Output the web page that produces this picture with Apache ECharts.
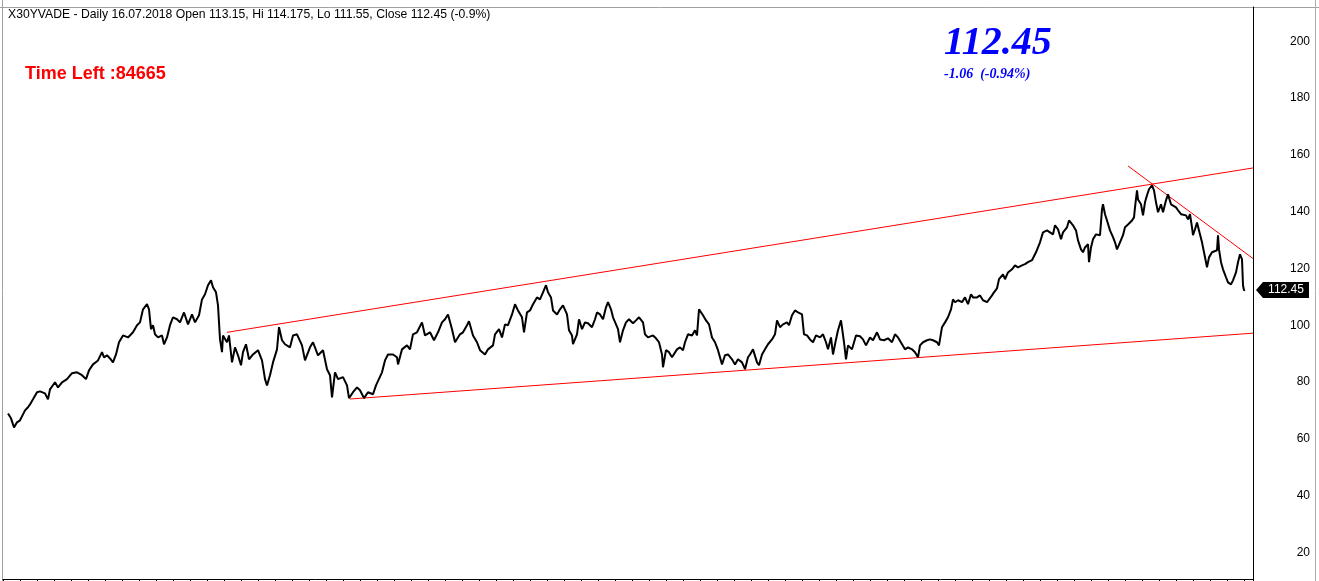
<!DOCTYPE html>
<html>
<head>
<meta charset="utf-8">
<script src="https://cdn.jsdelivr.net/npm/echarts@6/dist/echarts.min.js"></script>
<style>
html,body{margin:0;padding:0;background:#fff;}
#c{width:1319px;height:581px;}
</style>
</head>
<body>
<div id="c"></div>
<script>
// ---- data (bar index along the time axis, close value) ----
const bars = [8,11,14,17,20,23,25,28,30,33,37,40,45,48,50,55,58,62,67,72,77,82,86,89,93,98,102,104,107,110,113,116,119,123,128,133,137,140,143,147,149,151,153,155,158,162,164,167,170,173,177,180,184,188,192,195,199,202,205,208,211,213,216,218,220,222,223,227,229,232,235,238,241,243,246,249,
253,258,262,265,267,270,273,277,279,282,285,290,293,297,302,305,310,313,318,323,327,330,332,335,338,343,347,349,353,357,360,364,368,373,376,378,382,385,388,393,397,398,402,407,410,413,417,422,425,430,434,438,442,445,448,452,455,460,463,467,469,473,477,480,485,488,490,493,495,499,
502,505,508,512,515,518,522,524,527,530,533,537,540,543,546,548,551,553,557,560,563,567,569,572,573,577,579,582,585,588,592,595,597,600,603,606,608,611,613,616,618,620,623,626,629,633,636,639,643,645,648,653,656,659,662,663,666,669,672,674,677,680,683,685,688,692,695,697,699,703,706,709,712,715,718,722,725,728,732,735,738,742,745,748,
750,753,757,759,762,765,768,772,775,777,780,783,787,789,792,795,798,802,804,807,810,813,816,820,823,826,828,831,833,836,838,841,843,844,846,848,852,856,860,863,866,870,873,877,880,884,888,892,895,898,902,905,908,912,915,918,920,923,927,930,933,937,939,942,945,948,951,953,955,958,962,965,968,971,973,977,980,983,987,989,992,994,997,999,
1003,1005,1008,1012,1015,1018,1022,1025,1028,1032,1034,1036,1038,1040,1043,1047,1050,1053,1055,1058,1061,1063,1067,1069,1073,1076,1078,1081,1083,1085,1088,1089,1091,1093,1096,1098,1100,1102,1103,1105,1107,1110,1113,1115,1117,1120,1123,1125,1128,1132,1134,1135,1137,1138,1141,1143,1145,1147,1149,1152,1154,1156,1158,1161,1163,1166,1168,1171,1173,1176,1178,1181,1183,1186,1188,1190,1192,1193,1195,1197,1199,1202,1204,1206,1207,1209,1212,1214,1217,1218,1219,1221,1223,1226,1228,1231,1233,1236,1238,1240,1242,1243,1244,1245];
const closes = [68.9,67.2,64.0,65.8,66.5,68.6,70.0,71.1,72.1,73.9,76.4,76.7,76.0,73.9,77.4,79.9,78.1,79.9,81.0,83.1,83.4,82.4,81.0,84.1,86.2,87.6,90.5,88.7,89.4,88.3,86.9,89.7,94.0,96.4,95.7,97.5,100.0,101.0,105.6,107.4,105.6,98.6,100.0,96.8,95.7,96.4,93.3,95.7,100.0,102.8,102.1,101.0,104.5,100.3,103.8,101.0,103.5,109.1,110.9,114.1,115.8,113.4,111.6,107.0,95.0,90.5,96.4,94.0,96.4,86.9,92.2,89.4,85.9,90.5,93.3,88.0,
89.7,91.2,87.6,81.0,78.8,82.4,86.9,91.5,99.3,94.7,93.3,92.2,96.4,96.8,92.9,87.6,92.2,94.0,89.4,91.2,84.5,82.4,74.6,83.4,81.0,81.7,78.8,74.3,76.4,78.1,77.1,74.3,76.4,75.7,78.8,78.1,83.4,87.6,89.7,89.7,88.7,86.2,91.5,92.9,91.5,96.8,97.5,101.0,96.4,97.5,94.7,97.5,101.0,102.1,103.8,98.6,94.0,96.8,97.5,100.0,101.4,96.4,94.0,91.2,89.7,91.5,91.2,92.9,96.8,98.6,
95.7,100.3,100.0,103.8,107.4,105.2,102.8,97.5,104.5,105.2,107.4,109.8,109.1,111.6,114.1,111.6,109.8,105.2,103.8,105.6,107.0,103.8,98.2,96.4,93.3,96.8,102.1,98.6,101.0,100.7,99.3,102.1,104.5,103.8,102.1,106.3,108.1,105.6,102.8,100.3,98.6,94.0,98.2,101.0,102.1,100.7,101.7,102.8,101.0,96.8,95.7,96.4,95.4,94.0,89.7,85.2,91.2,90.5,88.7,88.0,91.5,92.2,91.2,94.0,96.8,96.4,98.2,96.4,105.6,103.5,101.7,100.3,95.7,94.0,91.2,86.2,89.4,89.7,88.0,86.2,88.0,86.9,84.5,88.7,
89.7,91.5,86.9,85.9,89.7,91.5,93.3,95.0,96.8,101.7,99.3,100.3,101.0,100.0,103.5,105.2,104.5,103.8,96.8,96.4,95.0,94.0,96.4,95.7,96.8,94.0,91.5,95.7,89.7,95.0,98.2,101.7,102.1,94.0,88.0,92.9,91.5,96.4,96.1,95.0,92.9,95.7,94.7,97.5,95.0,94.7,95.4,94.0,96.8,95.7,93.3,91.5,92.2,91.5,90.5,88.7,92.9,94.0,94.7,95.0,94.7,94.0,92.9,99.3,101.0,102.8,105.6,109.1,108.1,108.8,108.1,109.8,107.4,110.9,109.8,109.8,110.5,108.8,108.1,108.8,110.5,111.6,113.0,116.2,
117.9,116.2,118.6,119.7,121.1,120.4,121.1,121.5,122.2,122.9,123.2,125.7,125.7,129.2,132.7,133.4,132.7,132.0,135.2,133.8,130.3,132.7,134.5,136.9,135.2,133.4,129.9,126.7,125.7,127.4,128.5,122.2,127.4,130.3,132.0,132.7,131.7,140.8,142.6,139.1,136.9,133.4,131.0,129.2,126.7,129.2,131.7,134.5,135.5,136.9,138.0,141.5,147.5,144.3,142.6,138.7,143.3,145.8,147.9,149.3,147.5,143.3,139.8,142.6,139.8,144.0,146.1,142.6,142.2,141.5,140.5,139.1,139.8,138.7,137.3,139.1,134.5,131.7,133.8,136.2,133.4,129.2,125.7,122.2,120.4,123.9,125.7,125.3,126.4,131.7,126.7,122.2,119.7,116.9,115.1,114.4,115.8,118.6,122.2,125.0,123.2,114.1,112.3,112.45];

// trend lines: [start, end] along the time axis and their values
const upperX = [227, 1253], upperY = [97.5, 155.4];
const lowerX = [350, 1253], lowerY = [74.0, 97.2];
const downX  = [1128, 1253], downY  = [156.1, 123.5];

const yTicks = [20, 40, 60, 80, 100, 120, 140, 160, 180, 200];
const titleText = 'X30YVADE - Daily 16.07.2018 Open 113.15, Hi 114.175, Lo 111.55, Close 112.45 (-0.9%)';
const timeLeft = 'Time Left :84665';
const lastPrice = 112.45;
const changeText = '-1.06  (-0.94%)';

const zip = (xs, ys) => xs.map((x, i) => [x, ys[i]]);

const chart = echarts.init(document.getElementById('c'), null, {renderer: 'canvas'});
const option = {
  animation: false,
  backgroundColor: '#ffffff',
  grid: {left: 3, right: 66, top: 7, bottom: 2, containLabel: false},
  xAxis: {
    type: 'value', min: 3, max: 1253, interval: 17,
    axisLine: {show: true, lineStyle: {color: '#000', width: 1}},
    axisTick: {show: true, length: 3, lineStyle: {color: '#000'}},
    axisLabel: {show: false},
    splitLine: {show: false}
  },
  yAxis: {
    type: 'value', position: 'right', min: 10.6, max: 212.1,
    axisLine: {show: true, lineStyle: {color: '#000', width: 1}},
    axisTick: {show: false},
    splitLine: {show: false},
    axisLabel: {
      customValues: yTicks, color: '#000', fontFamily: 'Liberation Sans, Arial', fontSize: 12,
      align: 'right', margin: 57
    }
  },
  series: [
    {type: 'line', data: zip(bars, closes), symbol: 'none', lineStyle: {color: '#000', width: 2}, z: 3},
    {type: 'line', data: zip(upperX, upperY), symbol: 'none', lineStyle: {color: '#ff0000', width: 1}, z: 2},
    {type: 'line', data: zip(lowerX, lowerY), symbol: 'none', lineStyle: {color: '#ff0000', width: 1}, z: 2},
    {type: 'line', data: zip(downX, downY), symbol: 'none', lineStyle: {color: '#ff0000', width: 1}, z: 2}
  ]
};
chart.setOption(option);

const py = chart.convertToPixel({yAxisIndex: 0}, lastPrice);
const ax = chart.convertToPixel({xAxisIndex: 0}, 1253);
chart.setOption({
  graphic: [
    {type: 'line', shape: {x1: 0, y1: 7.5, x2: 1319, y2: 7.5}, style: {stroke: '#a0a0a0', lineWidth: 1}},
    {type: 'line', shape: {x1: 2.5, y1: 0, x2: 2.5, y2: 581}, style: {stroke: '#a0a0a0', lineWidth: 1}},
    {type: 'line', shape: {x1: 1315.5, y1: 0, x2: 1315.5, y2: 581}, style: {stroke: '#b0b0b0', lineWidth: 1}},
    {type: 'text', left: 8, top: 9, style: {text: titleText, fill: '#000', font: '12.2px "Liberation Sans", Arial'}},
    {type: 'text', left: 25, top: 65, style: {text: timeLeft, fill: '#ff0000', font: 'bold 18px "Liberation Sans", Arial'}},
    {type: 'text', left: 944, top: 24, style: {text: String(lastPrice), fill: '#0000ff', font: 'italic bold 40px "Liberation Serif", "Times New Roman"'}},
    {type: 'text', left: 944, top: 67, style: {text: changeText, fill: '#0000ff', font: 'italic bold 14px "Liberation Serif", "Times New Roman"'}},
    {type: 'polygon', shape: {points: [[ax + 3, py], [ax + 10, py - 8], [ax + 56, py - 8], [ax + 56, py + 8], [ax + 10, py + 8]]}, style: {fill: '#000'}},
    {type: 'text', x: ax + 33, y: py, style: {text: lastPrice.toFixed(2), fill: '#fff', font: '12px "Liberation Sans", Arial', align: 'center', verticalAlign: 'middle'}}
  ]
});
</script>
</body>
</html>
